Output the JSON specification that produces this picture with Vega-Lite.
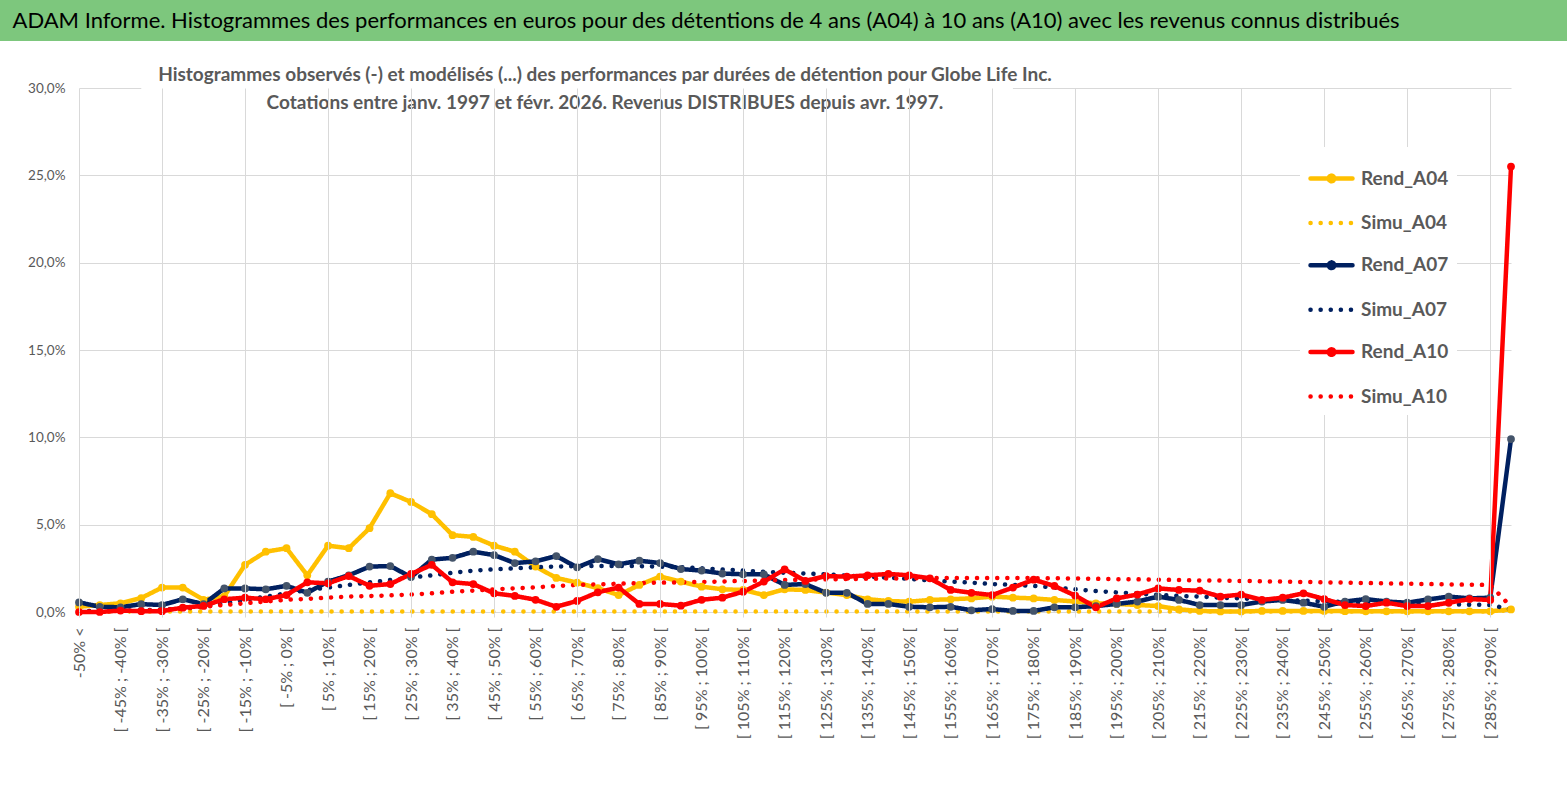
{
  "$schema": "https://vega.github.io/schema/vega-lite/v6.json",
  "padding": 0,
  "background": "white",
  "spacing": 25,
  "config": {
    "font": "Lato, sans-serif",
    "view": {"stroke": null},
    "axis": {"labelFont": "Lato, sans-serif", "labelColor": "#595959"}
  },
  "datasets": {
    "hist": [
      {"cat": "-50% <", "Rend_A04": 0.3, "Simu_A04": 0.03, "Rend_A07": 0.55, "Simu_A07": 0.05, "Rend_A10": 0.0, "Simu_A10": 0.02},
      {"cat": "[ -50% ; -45% [", "Rend_A04": 0.4, "Simu_A04": 0.03, "Rend_A07": 0.3, "Simu_A07": 0.06, "Rend_A10": 0.0, "Simu_A10": 0.03},
      {"cat": "[ -45% ; -40% [", "Rend_A04": 0.5, "Simu_A04": 0.03, "Rend_A07": 0.27, "Simu_A07": 0.08, "Rend_A10": 0.08, "Simu_A10": 0.05},
      {"cat": "[ -40% ; -35% [", "Rend_A04": 0.8, "Simu_A04": 0.03, "Rend_A07": 0.45, "Simu_A07": 0.1, "Rend_A10": 0.05, "Simu_A10": 0.08},
      {"cat": "[ -35% ; -30% [", "Rend_A04": 1.4, "Simu_A04": 0.03, "Rend_A07": 0.4, "Simu_A07": 0.13, "Rend_A10": 0.05, "Simu_A10": 0.12},
      {"cat": "[ -30% ; -25% [", "Rend_A04": 1.4, "Simu_A04": 0.03, "Rend_A07": 0.73, "Simu_A07": 0.2, "Rend_A10": 0.25, "Simu_A10": 0.2},
      {"cat": "[ -25% ; -20% [", "Rend_A04": 0.7, "Simu_A04": 0.03, "Rend_A07": 0.45, "Simu_A07": 0.3, "Rend_A10": 0.35, "Simu_A10": 0.3},
      {"cat": "[ -20% ; -15% [", "Rend_A04": 0.9, "Simu_A04": 0.03, "Rend_A07": 1.35, "Simu_A07": 0.5, "Rend_A10": 0.73, "Simu_A10": 0.4},
      {"cat": "[ -15% ; -10% [", "Rend_A04": 2.7, "Simu_A04": 0.03, "Rend_A07": 1.35, "Simu_A07": 0.7, "Rend_A10": 0.82, "Simu_A10": 0.5},
      {"cat": "[ -10% ; -5% [", "Rend_A04": 3.45, "Simu_A04": 0.03, "Rend_A07": 1.3, "Simu_A07": 0.88, "Rend_A10": 0.73, "Simu_A10": 0.6},
      {"cat": "[ -5% ; 0% [", "Rend_A04": 3.65, "Simu_A04": 0.03, "Rend_A07": 1.5, "Simu_A07": 1.07, "Rend_A10": 0.97, "Simu_A10": 0.7},
      {"cat": "[ 0% ; 5% [", "Rend_A04": 2.1, "Simu_A04": 0.03, "Rend_A07": 1.1, "Simu_A07": 1.26, "Rend_A10": 1.7, "Simu_A10": 0.75},
      {"cat": "[ 5% ; 10% [", "Rend_A04": 3.8, "Simu_A04": 0.03, "Rend_A07": 1.74, "Simu_A07": 1.4, "Rend_A10": 1.64, "Simu_A10": 0.82},
      {"cat": "[ 10% ; 15% [", "Rend_A04": 3.65, "Simu_A04": 0.03, "Rend_A07": 2.1, "Simu_A07": 1.55, "Rend_A10": 2.06, "Simu_A10": 0.88},
      {"cat": "[ 15% ; 20% [", "Rend_A04": 4.8, "Simu_A04": 0.03, "Rend_A07": 2.6, "Simu_A07": 1.7, "Rend_A10": 1.5, "Simu_A10": 0.92},
      {"cat": "[ 20% ; 25% [", "Rend_A04": 6.8, "Simu_A04": 0.03, "Rend_A07": 2.63, "Simu_A07": 1.83, "Rend_A10": 1.6, "Simu_A10": 0.95},
      {"cat": "[ 25% ; 30% [", "Rend_A04": 6.3, "Simu_A04": 0.03, "Rend_A07": 2.0, "Simu_A07": 1.97, "Rend_A10": 2.18, "Simu_A10": 1.0},
      {"cat": "[ 30% ; 35% [", "Rend_A04": 5.6, "Simu_A04": 0.03, "Rend_A07": 3.0, "Simu_A07": 2.1, "Rend_A10": 2.7, "Simu_A10": 1.07},
      {"cat": "[ 35% ; 40% [", "Rend_A04": 4.4, "Simu_A04": 0.03, "Rend_A07": 3.1, "Simu_A07": 2.25, "Rend_A10": 1.7, "Simu_A10": 1.16},
      {"cat": "[ 40% ; 45% [", "Rend_A04": 4.3, "Simu_A04": 0.03, "Rend_A07": 3.45, "Simu_A07": 2.37, "Rend_A10": 1.6, "Simu_A10": 1.22},
      {"cat": "[ 45% ; 50% [", "Rend_A04": 3.8, "Simu_A04": 0.03, "Rend_A07": 3.26, "Simu_A07": 2.44, "Rend_A10": 1.07, "Simu_A10": 1.3},
      {"cat": "[ 50% ; 55% [", "Rend_A04": 3.45, "Simu_A04": 0.03, "Rend_A07": 2.8, "Simu_A07": 2.5, "Rend_A10": 0.92, "Simu_A10": 1.35},
      {"cat": "[ 55% ; 60% [", "Rend_A04": 2.6, "Simu_A04": 0.03, "Rend_A07": 2.9, "Simu_A07": 2.56, "Rend_A10": 0.7, "Simu_A10": 1.41},
      {"cat": "[ 60% ; 65% [", "Rend_A04": 1.95, "Simu_A04": 0.03, "Rend_A07": 3.2, "Simu_A07": 2.6, "Rend_A10": 0.3, "Simu_A10": 1.49},
      {"cat": "[ 65% ; 70% [", "Rend_A04": 1.68, "Simu_A04": 0.03, "Rend_A07": 2.56, "Simu_A07": 2.63, "Rend_A10": 0.63, "Simu_A10": 1.55},
      {"cat": "[ 70% ; 75% [", "Rend_A04": 1.36, "Simu_A04": 0.03, "Rend_A07": 3.03, "Simu_A07": 2.64, "Rend_A10": 1.13, "Simu_A10": 1.58},
      {"cat": "[ 75% ; 80% [", "Rend_A04": 0.97, "Simu_A04": 0.03, "Rend_A07": 2.73, "Simu_A07": 2.64, "Rend_A10": 1.4, "Simu_A10": 1.62},
      {"cat": "[ 80% ; 85% [", "Rend_A04": 1.55, "Simu_A04": 0.03, "Rend_A07": 2.94, "Simu_A07": 2.63, "Rend_A10": 0.46, "Simu_A10": 1.65},
      {"cat": "[ 85% ; 90% [", "Rend_A04": 2.03, "Simu_A04": 0.03, "Rend_A07": 2.8, "Simu_A07": 2.6, "Rend_A10": 0.46, "Simu_A10": 1.68},
      {"cat": "[ 90% ; 95% [", "Rend_A04": 1.74, "Simu_A04": 0.03, "Rend_A07": 2.46, "Simu_A07": 2.56, "Rend_A10": 0.36, "Simu_A10": 1.7},
      {"cat": "[ 95% ; 100% [", "Rend_A04": 1.45, "Simu_A04": 0.03, "Rend_A07": 2.37, "Simu_A07": 2.5, "Rend_A10": 0.7, "Simu_A10": 1.72},
      {"cat": "[ 100% ; 105% [", "Rend_A04": 1.3, "Simu_A04": 0.03, "Rend_A07": 2.2, "Simu_A07": 2.44, "Rend_A10": 0.82, "Simu_A10": 1.75},
      {"cat": "[ 105% ; 110% [", "Rend_A04": 1.26, "Simu_A04": 0.03, "Rend_A07": 2.16, "Simu_A07": 2.37, "Rend_A10": 1.16, "Simu_A10": 1.78},
      {"cat": "[ 110% ; 115% [", "Rend_A04": 0.97, "Simu_A04": 0.03, "Rend_A07": 2.16, "Simu_A07": 2.3, "Rend_A10": 1.74, "Simu_A10": 1.8},
      {"cat": "[ 115% ; 120% [", "Rend_A04": 1.3, "Simu_A04": 0.03, "Rend_A07": 1.55, "Simu_A07": 2.25, "Rend_A10": 2.44, "Simu_A10": 1.83},
      {"cat": "[ 120% ; 125% [", "Rend_A04": 1.26, "Simu_A04": 0.03, "Rend_A07": 1.6, "Simu_A07": 2.2, "Rend_A10": 1.78, "Simu_A10": 1.85},
      {"cat": "[ 125% ; 130% [", "Rend_A04": 1.11, "Simu_A04": 0.03, "Rend_A07": 1.1, "Simu_A07": 2.16, "Rend_A10": 2.06, "Simu_A10": 1.87},
      {"cat": "[ 130% ; 135% [", "Rend_A04": 0.97, "Simu_A04": 0.03, "Rend_A07": 1.1, "Simu_A07": 2.08, "Rend_A10": 2.02, "Simu_A10": 1.89},
      {"cat": "[ 135% ; 140% [", "Rend_A04": 0.73, "Simu_A04": 0.03, "Rend_A07": 0.46, "Simu_A07": 2.02, "Rend_A10": 2.1, "Simu_A10": 1.9},
      {"cat": "[ 140% ; 145% [", "Rend_A04": 0.63, "Simu_A04": 0.03, "Rend_A07": 0.46, "Simu_A07": 1.97, "Rend_A10": 2.18, "Simu_A10": 1.92},
      {"cat": "[ 145% ; 150% [", "Rend_A04": 0.59, "Simu_A04": 0.03, "Rend_A07": 0.3, "Simu_A07": 1.9, "Rend_A10": 2.1, "Simu_A10": 1.93},
      {"cat": "[ 150% ; 155% [", "Rend_A04": 0.69, "Simu_A04": 0.03, "Rend_A07": 0.27, "Simu_A07": 1.8, "Rend_A10": 1.93, "Simu_A10": 1.94},
      {"cat": "[ 155% ; 160% [", "Rend_A04": 0.73, "Simu_A04": 0.03, "Rend_A07": 0.3, "Simu_A07": 1.74, "Rend_A10": 1.26, "Simu_A10": 1.95},
      {"cat": "[ 160% ; 165% [", "Rend_A04": 0.78, "Simu_A04": 0.03, "Rend_A07": 0.1, "Simu_A07": 1.68, "Rend_A10": 1.1, "Simu_A10": 1.95},
      {"cat": "[ 165% ; 170% [", "Rend_A04": 0.88, "Simu_A04": 0.03, "Rend_A07": 0.17, "Simu_A07": 1.6, "Rend_A10": 0.97, "Simu_A10": 1.95},
      {"cat": "[ 170% ; 175% [", "Rend_A04": 0.82, "Simu_A04": 0.03, "Rend_A07": 0.06, "Simu_A07": 1.55, "Rend_A10": 1.4, "Simu_A10": 1.95},
      {"cat": "[ 175% ; 180% [", "Rend_A04": 0.78, "Simu_A04": 0.03, "Rend_A07": 0.06, "Simu_A07": 1.49, "Rend_A10": 1.85, "Simu_A10": 1.94},
      {"cat": "[ 180% ; 185% [", "Rend_A04": 0.69, "Simu_A04": 0.03, "Rend_A07": 0.27, "Simu_A07": 1.4, "Rend_A10": 1.49, "Simu_A10": 1.93},
      {"cat": "[ 185% ; 190% [", "Rend_A04": 0.6, "Simu_A04": 0.03, "Rend_A07": 0.27, "Simu_A07": 1.3, "Rend_A10": 0.94, "Simu_A10": 1.92},
      {"cat": "[ 190% ; 195% [", "Rend_A04": 0.5, "Simu_A04": 0.03, "Rend_A07": 0.34, "Simu_A07": 1.2, "Rend_A10": 0.27, "Simu_A10": 1.9},
      {"cat": "[ 195% ; 200% [", "Rend_A04": 0.46, "Simu_A04": 0.03, "Rend_A07": 0.46, "Simu_A07": 1.12, "Rend_A10": 0.78, "Simu_A10": 1.88},
      {"cat": "[ 200% ; 205% [", "Rend_A04": 0.4, "Simu_A04": 0.03, "Rend_A07": 0.6, "Simu_A07": 1.05, "Rend_A10": 1.0, "Simu_A10": 1.87},
      {"cat": "[ 205% ; 210% [", "Rend_A04": 0.34, "Simu_A04": 0.03, "Rend_A07": 0.88, "Simu_A07": 0.98, "Rend_A10": 1.35, "Simu_A10": 1.85},
      {"cat": "[ 210% ; 215% [", "Rend_A04": 0.15, "Simu_A04": 0.03, "Rend_A07": 0.69, "Simu_A07": 0.92, "Rend_A10": 1.26, "Simu_A10": 1.83},
      {"cat": "[ 215% ; 220% [", "Rend_A04": 0.06, "Simu_A04": 0.03, "Rend_A07": 0.4, "Simu_A07": 0.88, "Rend_A10": 1.22, "Simu_A10": 1.81},
      {"cat": "[ 220% ; 225% [", "Rend_A04": 0.03, "Simu_A04": 0.03, "Rend_A07": 0.4, "Simu_A07": 0.82, "Rend_A10": 0.88, "Simu_A10": 1.8},
      {"cat": "[ 225% ; 230% [", "Rend_A04": 0.03, "Simu_A04": 0.03, "Rend_A07": 0.4, "Simu_A07": 0.78, "Rend_A10": 1.0, "Simu_A10": 1.78},
      {"cat": "[ 230% ; 235% [", "Rend_A04": 0.06, "Simu_A04": 0.03, "Rend_A07": 0.6, "Simu_A07": 0.72, "Rend_A10": 0.69, "Simu_A10": 1.76},
      {"cat": "[ 235% ; 240% [", "Rend_A04": 0.06, "Simu_A04": 0.03, "Rend_A07": 0.69, "Simu_A07": 0.69, "Rend_A10": 0.82, "Simu_A10": 1.74},
      {"cat": "[ 240% ; 245% [", "Rend_A04": 0.06, "Simu_A04": 0.03, "Rend_A07": 0.53, "Simu_A07": 0.65, "Rend_A10": 1.07, "Simu_A10": 1.72},
      {"cat": "[ 245% ; 250% [", "Rend_A04": 0.06, "Simu_A04": 0.03, "Rend_A07": 0.3, "Simu_A07": 0.61, "Rend_A10": 0.74, "Simu_A10": 1.7},
      {"cat": "[ 250% ; 255% [", "Rend_A04": 0.05, "Simu_A04": 0.03, "Rend_A07": 0.6, "Simu_A07": 0.57, "Rend_A10": 0.4, "Simu_A10": 1.68},
      {"cat": "[ 255% ; 260% [", "Rend_A04": 0.04, "Simu_A04": 0.03, "Rend_A07": 0.74, "Simu_A07": 0.53, "Rend_A10": 0.34, "Simu_A10": 1.66},
      {"cat": "[ 260% ; 265% [", "Rend_A04": 0.04, "Simu_A04": 0.03, "Rend_A07": 0.6, "Simu_A07": 0.5, "Rend_A10": 0.53, "Simu_A10": 1.64},
      {"cat": "[ 265% ; 270% [", "Rend_A04": 0.04, "Simu_A04": 0.03, "Rend_A07": 0.53, "Simu_A07": 0.48, "Rend_A10": 0.34, "Simu_A10": 1.62},
      {"cat": "[ 270% ; 275% [", "Rend_A04": 0.04, "Simu_A04": 0.03, "Rend_A07": 0.72, "Simu_A07": 0.46, "Rend_A10": 0.34, "Simu_A10": 1.6},
      {"cat": "[ 275% ; 280% [", "Rend_A04": 0.04, "Simu_A04": 0.03, "Rend_A07": 0.88, "Simu_A07": 0.44, "Rend_A10": 0.53, "Simu_A10": 1.58},
      {"cat": "[ 280% ; 285% [", "Rend_A04": 0.04, "Simu_A04": 0.03, "Rend_A07": 0.78, "Simu_A07": 0.42, "Rend_A10": 0.74, "Simu_A10": 1.56},
      {"cat": "[ 285% ; 290% [", "Rend_A04": 0.04, "Simu_A04": 0.03, "Rend_A07": 0.82, "Simu_A07": 0.4, "Rend_A10": 0.69, "Simu_A10": 1.55},
      {"cat": "290% >", "Rend_A04": 0.15, "Simu_A04": 0.1, "Rend_A07": 9.9, "Simu_A07": 0.15, "Rend_A10": 25.5, "Simu_A10": 0.3}
    ]
  },
  "vconcat": [
    {
      "width": 1567,
      "height": 41,
      "view": {"fill": "#7dc77d", "stroke": null},
      "data": {"values": [{"t": "ADAM Informe. Histogrammes des performances en euros pour des détentions de 4 ans (A04) à 10 ans (A10) avec les revenus connus distribués"}]},
      "mark": {"type": "text", "align": "left", "baseline": "middle", "dx": -771, "fontSize": 22, "color": "#000000", "font": "Lato, sans-serif"},
      "encoding": {"text": {"field": "t"}}
    },
    {
      "spacing": 0,
      "hconcat": [
        {
          "width": 1,
          "height": 1,
          "data": {"values": [{"t": ""}]},
          "mark": {"type": "text"},
          "encoding": {"text": {"field": "t"}}
        },
        {
          "width": 1432,
          "height": 524,
          "layer": [
            {
              "data": {"values": [{}]},
              "mark": {"type": "rect", "color": "white", "opacity": 1},
              "encoding": {
                "x": {"datum": "[ -40% ; -35% [", "type": "ordinal"},
                "x2": {"datum": "[ 170% ; 175% ["},
                "y": {"datum": 28.15, "type": "quantitative"},
                "y2": {"datum": 30.3}
              }
            },
            {
              "data": {"values": [{}]},
              "mark": {
                "type": "text",
                "text": ["Histogrammes observés (-) et modélisés (...) des performances par durées de détention pour Globe Life Inc.", "Cotations entre janv. 1997 et févr. 2026. Revenus DISTRIBUES depuis avr. 1997."],
                "align": "center", "baseline": "middle", "lineHeight": 28, "dx": -190, "dy": -13,
                "fontSize": 19, "fontWeight": "bold", "color": "#595959", "font": "Lato, sans-serif"
              },
              "encoding": {"y": {"datum": 30, "type": "quantitative"}}
            },
            {
              "data": {"name": "hist"},
              "transform": [
                {"fold": ["Rend_A04", "Simu_A04", "Rend_A07", "Simu_A07", "Rend_A10", "Simu_A10"], "as": ["serie", "v"]}
              ],
              "mark": {"type": "line", "strokeWidth": 4.5, "strokeCap": "round", "strokeJoin": "round"},
              "encoding": {
                "x": {
                  "field": "cat", "type": "ordinal", "sort": null, "title": null,
                  "scale": {
                    "type": "point",
                    "padding": 0,
                    "domain": ["-50% <", "[ -50% ; -45% [", "[ -45% ; -40% [", "[ -40% ; -35% [", "[ -35% ; -30% [", "[ -30% ; -25% [", "[ -25% ; -20% [", "[ -20% ; -15% [", "[ -15% ; -10% [", "[ -10% ; -5% [", "[ -5% ; 0% [", "[ 0% ; 5% [", "[ 5% ; 10% [", "[ 10% ; 15% [", "[ 15% ; 20% [", "[ 20% ; 25% [", "[ 25% ; 30% [", "[ 30% ; 35% [", "[ 35% ; 40% [", "[ 40% ; 45% [", "[ 45% ; 50% [", "[ 50% ; 55% [", "[ 55% ; 60% [", "[ 60% ; 65% [", "[ 65% ; 70% [", "[ 70% ; 75% [", "[ 75% ; 80% [", "[ 80% ; 85% [", "[ 85% ; 90% [", "[ 90% ; 95% [", "[ 95% ; 100% [", "[ 100% ; 105% [", "[ 105% ; 110% [", "[ 110% ; 115% [", "[ 115% ; 120% [", "[ 120% ; 125% [", "[ 125% ; 130% [", "[ 130% ; 135% [", "[ 135% ; 140% [", "[ 140% ; 145% [", "[ 145% ; 150% [", "[ 150% ; 155% [", "[ 155% ; 160% [", "[ 160% ; 165% [", "[ 165% ; 170% [", "[ 170% ; 175% [", "[ 175% ; 180% [", "[ 180% ; 185% [", "[ 185% ; 190% [", "[ 190% ; 195% [", "[ 195% ; 200% [", "[ 200% ; 205% [", "[ 205% ; 210% [", "[ 210% ; 215% [", "[ 215% ; 220% [", "[ 220% ; 225% [", "[ 225% ; 230% [", "[ 230% ; 235% [", "[ 235% ; 240% [", "[ 240% ; 245% [", "[ 245% ; 250% [", "[ 250% ; 255% [", "[ 255% ; 260% [", "[ 260% ; 265% [", "[ 265% ; 270% [", "[ 270% ; 275% [", "[ 275% ; 280% [", "[ 280% ; 285% [", "[ 285% ; 290% [", "290% >"]
                  },
                  "axis": {
                    "values": ["-50% <", "[ -45% ; -40% [", "[ -35% ; -30% [", "[ -25% ; -20% [", "[ -15% ; -10% [", "[ -5% ; 0% [", "[ 5% ; 10% [", "[ 15% ; 20% [", "[ 25% ; 30% [", "[ 35% ; 40% [", "[ 45% ; 50% [", "[ 55% ; 60% [", "[ 65% ; 70% [", "[ 75% ; 80% [", "[ 85% ; 90% [", "[ 95% ; 100% [", "[ 105% ; 110% [", "[ 115% ; 120% [", "[ 125% ; 130% [", "[ 135% ; 140% [", "[ 145% ; 150% [", "[ 155% ; 160% [", "[ 165% ; 170% [", "[ 175% ; 180% [", "[ 185% ; 190% [", "[ 195% ; 200% [", "[ 205% ; 210% [", "[ 215% ; 220% [", "[ 225% ; 230% [", "[ 235% ; 240% [", "[ 245% ; 250% [", "[ 255% ; 260% [", "[ 265% ; 270% [", "[ 275% ; 280% [", "[ 285% ; 290% ["],
                    "labelAngle": -90, "labelFontSize": 16, "labelPadding": 10,
                    "domain": false, "ticks": true, "tickSize": 5, "tickColor": "#d9d9d9",
                    "tickOpacity": {"condition": {"test": "indexof(['-50% <', '[ -35% ; -30% [', '[ -15% ; -10% [', '[ 5% ; 10% [', '[ 25% ; 30% [', '[ 45% ; 50% [', '[ 65% ; 70% [', '[ 85% ; 90% [', '[ 105% ; 110% [', '[ 125% ; 130% [', '[ 145% ; 150% [', '[ 165% ; 170% [', '[ 185% ; 190% [', '[ 205% ; 210% [', '[ 225% ; 230% [', '[ 245% ; 250% [', '[ 265% ; 270% [', '[ 285% ; 290% ['], datum.value) >= 0", "value": 1}, "value": 0},
                    "grid": true, "gridColor": "#d9d9d9",
                    "gridOpacity": {"condition": {"test": "indexof(['-50% <', '[ -35% ; -30% [', '[ -15% ; -10% [', '[ 5% ; 10% [', '[ 25% ; 30% [', '[ 45% ; 50% [', '[ 65% ; 70% [', '[ 85% ; 90% [', '[ 105% ; 110% [', '[ 125% ; 130% [', '[ 145% ; 150% [', '[ 165% ; 170% [', '[ 185% ; 190% [', '[ 205% ; 210% [', '[ 225% ; 230% [', '[ 245% ; 250% [', '[ 265% ; 270% [', '[ 285% ; 290% ['], datum.value) >= 0", "value": 1}, "value": 0}
                  }
                },
                "y": {
                  "field": "v", "type": "quantitative", "title": null,
                  "scale": {"domain": [0, 30], "nice": false},
                  "axis": {
                    "values": [0, 5, 10, 15, 20, 25, 30],
                    "labelExpr": "replace(format(datum.value, '.1f'), '.', ',') + '%'",
                    "labelFontSize": 13.5, "labelPadding": 14, "domain": false, "ticks": false,
                    "grid": true, "gridColor": "#d9d9d9", "minExtent": 78
                  }
                },
                "color": {
                  "field": "serie", "type": "nominal",
                  "scale": {
                    "domain": ["Rend_A04", "Simu_A04", "Rend_A07", "Simu_A07", "Rend_A10", "Simu_A10"],
                    "range": ["#ffc000", "#ffc000", "#002060", "#002060", "#ff0000", "#ff0000"]
                  },
                  "legend": {
                    "title": null, "orient": "none", "legendX": 1300, "legendY": 147,
                    "symbolType": "stroke", "symbolSize": 1764, "symbolStrokeWidth": 4.5,
                    "labelFontSize": 19, "labelFontWeight": "bold", "labelColor": "#595959",
                    "labelFont": "Lato, sans-serif",
                    "labelOffset": 6, "rowPadding": 8.4, "padding": 8, "fillColor": "white",
                    "encode": {"symbols": {"update": {
                      "strokeCap": {"value": "round"},
                      "shape": {"signal": "indexof(datum.value, 'Rend') === 0 ? 'M-1,0L1,0M0.13,0A0.13,0.13,0,1,1,-0.13,0A0.13,0.13,0,1,1,0.13,0Z' : 'stroke'"},
                      "fill": {"signal": "datum.value === 'Rend_A04' ? '#ffc000' : datum.value === 'Rend_A07' ? '#44546a' : datum.value === 'Rend_A10' ? '#ff0000' : 'transparent'"}
                    }}}
                  }
                },
                "strokeDash": {
                  "field": "serie", "type": "nominal",
                  "scale": {
                    "domain": ["Rend_A04", "Simu_A04", "Rend_A07", "Simu_A07", "Rend_A10", "Simu_A10"],
                    "range": [[1, 0], [0.1, 10], [1, 0], [0.1, 10], [1, 0], [0.1, 10]]
                  }
                }
              }
            },
            {
              "data": {"name": "hist"},
              "transform": [
                {"fold": ["Rend_A04", "Rend_A07", "Rend_A10"], "as": ["serie", "v"]}
              ],
              "mark": {"type": "point", "filled": true, "size": 60, "opacity": 1},
              "encoding": {
                "x": {"field": "cat", "type": "ordinal"},
                "y": {"field": "v", "type": "quantitative"},
                "fill": {
                  "field": "serie", "type": "nominal",
                  "scale": {"domain": ["Rend_A04", "Rend_A07", "Rend_A10"], "range": ["#ffc000", "#44546a", "#ff0000"]},
                  "legend": null
                }
              }
            }
          ]
        }
      ]
    }
  ]
}
